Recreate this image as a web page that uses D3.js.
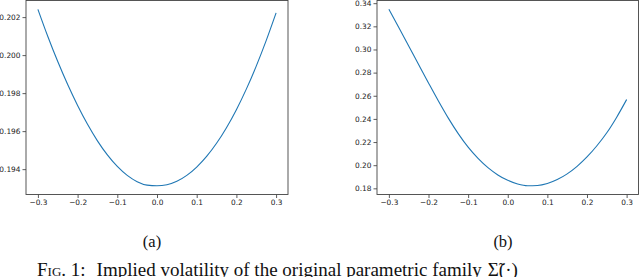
<!DOCTYPE html>
<html><head><meta charset="utf-8">
<script src="https://cdn.jsdelivr.net/npm/d3@7"></script>
<style>
html,body{margin:0;padding:0;background:#fff;overflow:hidden}
svg{display:block}
</style></head>
<body>
<svg id="chart" width="640" height="277"></svg>
<script>
// ---- data ----
const moneyness = [-0.3,-0.275,-0.25,-0.225,-0.2,-0.175,-0.15,-0.125,-0.1,-0.075,-0.05,-0.025,0,
  0.025,0.05,0.075,0.1,0.125,0.15,0.175,0.2,0.225,0.25,0.275,0.3];
const volA = [0.20241,0.20098,0.19966,0.19845,0.19735,0.19636,0.19549,0.19475,0.19414,0.19367,0.19334,0.19316,0.19313,
  0.19318,0.19336,0.19367,0.19411,0.19467,0.19536,0.19618,0.19713,0.19821,0.19942,0.20076,0.20222];
const volB = [0.3347,0.3189,0.3030,0.2870,0.2711,0.2555,0.2407,0.2273,0.2156,0.2059,0.1979,0.1916,0.1869,
  0.1838,0.1823,0.1825,0.1842,0.1876,0.1925,0.1990,0.2071,0.2168,0.2280,0.2415,0.2567];
const xTicks = [-0.3,-0.2,-0.1,0.0,0.1,0.2,0.3];
const yTicksA = [0.194,0.196,0.198,0.200,0.202];
const yTicksB = [0.18,0.20,0.22,0.24,0.26,0.28,0.30,0.32,0.34];
const captions = ["(a)","(b)"];
const figCaption = "Implied volatility of the original parametric family";

const svg = d3.select("#chart");
const panels = [
  {vals: volA, yt: yTicksA, fmt: d3.format(".3f"), left: 26, right: 288, cap: captions[0], capX: 152},
  {vals: volB, yt: yTicksB, fmt: d3.format(".2f"), left: 377, right: 638.5, cap: captions[1], capX: 503}
];
const plotTop = 0.5, plotBottom = 194.5;

panels.forEach(p => {
  const xr = d3.extent(moneyness), xp = (xr[1]-xr[0])*0.05;
  const x = d3.scaleLinear().domain([xr[0]-xp, xr[1]+xp]).range([p.left, p.right]);
  const yr = d3.extent(p.vals), yp = (yr[1]-yr[0])*0.05;
  const y = d3.scaleLinear().domain([yr[0]-yp, yr[1]+yp]).range([plotBottom, plotTop]);
  const g = svg.append("g");

  const xAxis = d3.axisBottom(x).tickValues(xTicks).tickSize(3.5).tickPadding(2)
    .tickFormat(d => d3.format(".1f")(d).replace("-", "\u2212"));
  const gx = g.append("g").attr("transform", `translate(0,${plotBottom})`).call(xAxis);
  const yAxis = d3.axisLeft(y).tickValues(p.yt).tickSize(3.5).tickPadding(2).tickFormat(p.fmt);
  const gy = g.append("g").attr("transform", `translate(${p.left},0)`).call(yAxis);
  [gx, gy].forEach(a => {
    a.select(".domain").remove();
    a.selectAll(".tick line").attr("stroke", "#333").attr("stroke-width", 0.8);
    a.selectAll(".tick text").attr("font-family", "DejaVu Sans").attr("font-size", 7.4).attr("fill", "#222");
  });

  g.append("rect").attr("x", p.left).attr("y", plotTop).attr("width", p.right - p.left).attr("height", plotBottom - plotTop)
    .attr("fill", "none").attr("stroke", "#444").attr("stroke-width", 0.9);

  const line = d3.line().curve(d3.curveMonotoneX).x((d, i) => x(moneyness[i])).y(d => y(d));
  g.append("path").datum(p.vals).attr("d", line).attr("fill", "none")
    .attr("stroke", "#1f77b4").attr("stroke-width", 1.1);

  svg.append("text").attr("x", p.capX).attr("y", 247).attr("text-anchor", "middle")
    .attr("font-family", "Liberation Serif").attr("font-size", 16.5).attr("fill", "#111").text(p.cap);
});

const cap = svg.append("text").attr("x", 37).attr("y", 276).attr("font-family", "Liberation Serif")
  .attr("font-size", 19).attr("fill", "#111");
cap.append("tspan").attr("font-variant", "small-caps").text("Fig. 1:");
cap.append("tspan").attr("dx", 11).text(figCaption);
cap.append("tspan").attr("dx", 6).text("\u03A3\u0303(\u00B7)");
</script>
</body></html>
